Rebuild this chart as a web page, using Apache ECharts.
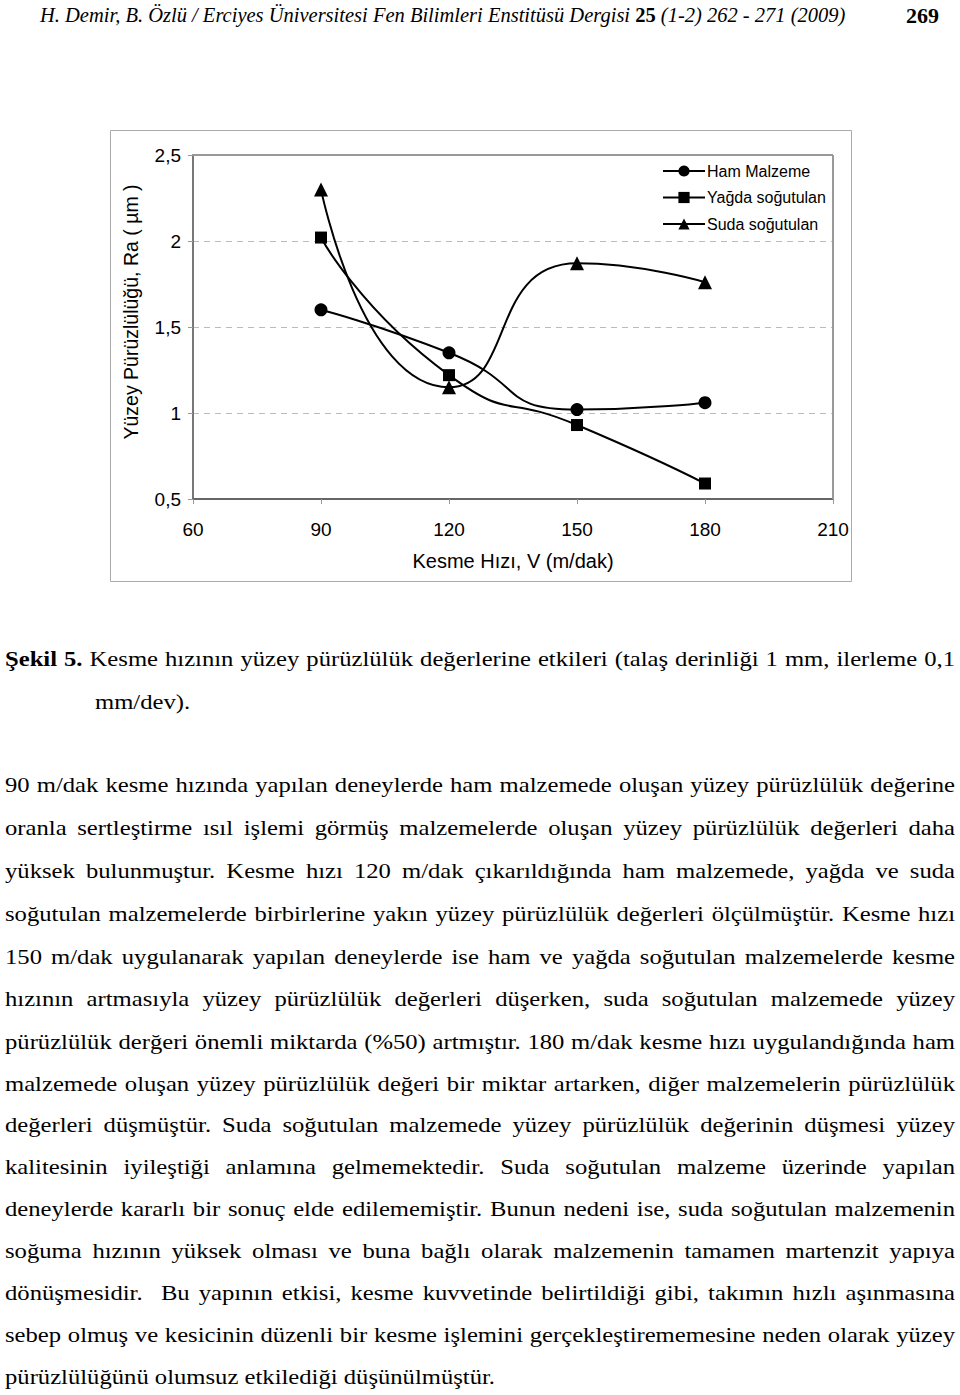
<!DOCTYPE html>
<html>
<head>
<meta charset="utf-8">
<script src="https://cdn.jsdelivr.net/npm/echarts@6/dist/echarts.min.js"></script>
<style>
  html, body { margin:0; padding:0; background:#fff; }
  #page { position:relative; width:960px; height:1395px; overflow:hidden; }
  #chart { position:absolute; left:0; top:0; width:960px; height:620px; }
  .serif { font-family: "Liberation Serif", "Times New Roman", serif; color:#000; }
  #header { position:absolute; left:40px; top:4px; font-size:20.5px; white-space:nowrap; font-style:italic; }
  #header b { font-style:normal; }
  #pageno { position:absolute; left:906px; top:3px; font-size:22px; font-weight:bold; }
  .ln { position:absolute; left:5px; font-size:22px; white-space:nowrap; text-align:justify; text-align-last:justify; line-height:24px; transform-origin:0 0; transform:scaleX(1.12); }
  .ln.last { text-align-last:left; }
</style>
</head>
<body>
<div id="page">
  <div id="chart"></div>
  <div id="header" class="serif">H. Demir, B. Özlü / Erciyes Üniversitesi Fen Bilimleri Enstitüsü Dergisi <b>25</b> (1-2) 262 - 271 (2009)</div>
  <div id="pageno" class="serif">269</div>
  <div id="text"></div>
</div>
<script>
// ---- data ----
const speeds = [90, 120, 150, 180];
const hamMalzeme = [1.60, 1.35, 1.02, 1.06];
const yagdaSogutulan = [2.02, 1.22, 0.93, 0.59];
const sudaSogutulan = [2.30, 1.15, 1.87, 1.76];
const seriesNames = ['Ham Malzeme', 'Yağda soğutulan', 'Suda soğutulan'];
const xTicks = [60, 90, 120, 150, 180, 210];
const yTicks = [0.5, 1, 1.5, 2, 2.5];

const captionBold = 'Şekil 5.';
const captionRest = ' Kesme hızının yüzey pürüzlülük değerlerine etkileri (talaş derinliği 1 mm, ilerleme 0,1';
const captionLine2 = 'mm/dev).';
const bodyLines = [
  '90 m/dak kesme hızında yapılan deneylerde ham malzemede oluşan yüzey pürüzlülük değerine',
  'oranla sertleştirme ısıl işlemi görmüş malzemelerde oluşan yüzey pürüzlülük değerleri daha',
  'yüksek bulunmuştur. Kesme hızı 120 m/dak çıkarıldığında ham malzemede, yağda ve suda',
  'soğutulan malzemelerde birbirlerine yakın yüzey pürüzlülük değerleri ölçülmüştür. Kesme hızı',
  '150 m/dak uygulanarak yapılan deneylerde ise ham ve yağda soğutulan malzemelerde kesme',
  'hızının artmasıyla yüzey pürüzlülük değerleri düşerken, suda soğutulan malzemede yüzey',
  'pürüzlülük derğeri önemli miktarda (%50) artmıştır. 180 m/dak kesme hızı uygulandığında ham',
  'malzemede oluşan yüzey pürüzlülük değeri bir miktar artarken, diğer malzemelerin pürüzlülük',
  'değerleri düşmüştür. Suda soğutulan malzemede yüzey pürüzlülük değerinin düşmesi yüzey',
  'kalitesinin iyileştiği anlamına gelmemektedir. Suda soğutulan malzeme üzerinde yapılan',
  'deneylerde kararlı bir sonuç elde edilememiştir. Bunun nedeni ise, suda soğutulan malzemenin',
  'soğuma hızının yüksek olması ve buna bağlı olarak malzemenin tamamen martenzit yapıya',
  'dönüşmesidir.\u00a0 Bu yapının etkisi, kesme kuvvetinde belirtildiği gibi, takımın hızlı aşınmasına',
  'sebep olmuş ve kesicinin düzenli bir kesme işlemini gerçekleştirememesine neden olarak yüzey',
  'pürüzlülüğünü olumsuz etkilediği düşünülmüştür.'
];

// ---- page text ----
const SX = 1.12;
const textBox = document.getElementById('text');
function addLine(html, top, left, cls) {
  const d = document.createElement('div');
  d.className = 'serif ln' + (cls ? ' ' + cls : '');
  const l = left == null ? 5 : left;
  d.style.top = top + 'px';
  d.style.left = l + 'px';
  d.style.width = ((955 - l) / SX) + 'px';
  d.innerHTML = html;
  textBox.appendChild(d);
}
addLine('<b>' + captionBold + '</b>' + captionRest, 647);
addLine(captionLine2, 690, 95, 'last');
const lineTops = [773, 816, 859, 902, 945, 987, 1030, 1072, 1113, 1155, 1197, 1239, 1281, 1323, 1365];
bodyLines.forEach((t, i) => addLine(t, lineTops[i], null, i === bodyLines.length - 1 ? 'last' : ''));

// ---- chart ----
const chart = echarts.init(document.getElementById('chart'), null, { renderer: 'svg' });
const fmt = v => String(v).replace('.', ',');
const mk = (name, data, symbol, size) => ({
  name, type: 'line', smooth: 0.6,
  data: speeds.map((s, i) => [s, data[i]]),
  symbol, symbolSize: size,
  lineStyle: { color: '#000', width: 2 },
  itemStyle: { color: '#000' },
  z: 3
});
chart.setOption({
  animation: false,
  textStyle: { fontFamily: 'Liberation Sans, Arial, sans-serif' },
  grid: { left: 193, top: 155, width: 640, height: 344, show: false },
  graphic: [
    { type: 'rect', shape: { x: 110.5, y: 130.5, width: 741, height: 451 }, style: { fill: 'none', stroke: '#aaa', lineWidth: 1 }, z: 0 },
    { type: 'text', x: 131, y: 312, rotation: Math.PI / 2,
      style: { text: 'Yüzey Pürüzlülüğü, Ra ( µm )', font: '19.5px "Liberation Sans", Arial, sans-serif', fill: '#000', align: 'center', verticalAlign: 'middle' } }
  ],
  legend: {
    orient: 'vertical', left: 660, top: 159,
    data: seriesNames,
    itemWidth: 42, itemHeight: 14, itemGap: 10.5,
    textStyle: { fontSize: 16, color: '#000', fontFamily: 'Liberation Sans, Arial, sans-serif', padding: [0,0,0,-3] },
    backgroundColor: '#fff', padding: [4, 18, 6, 2]
  },
  xAxis: {
    type: 'value', min: 60, max: 210, interval: 30,
    name: 'Kesme Hızı, V (m/dak)', nameLocation: 'middle', nameGap: 52,
    nameTextStyle: { fontSize: 20, color: '#000' },
    axisLine: { show: true, lineStyle: { color: '#666', width: 2 } },
    axisTick: { show: true, length: 5, lineStyle: { color: '#999' } },
    axisLabel: { fontSize: 19, color: '#000', margin: 21 },
    splitLine: { show: false }
  },
  yAxis: [{
    type: 'value', min: 0.5, max: 2.5, interval: 0.5,
    axisLine: { show: true, onZero: false, lineStyle: { color: '#777', width: 2 } },
    axisTick: { show: true, length: 5, lineStyle: { color: '#999' } },
    axisLabel: { fontSize: 19, color: '#000', margin: 12, formatter: fmt },
    splitLine: { show: true, lineStyle: { color: '#bbb', type: [6, 5], width: 1 } }
  }],
  series: [
    mk(seriesNames[0], hamMalzeme, 'circle', 13),
    mk(seriesNames[1], yagdaSogutulan, 'rect', 12),
    mk(seriesNames[2], sudaSogutulan, 'triangle', 14),
    { type: 'line', silent: true, data: [], markLine: { silent: true, symbol: 'none', label: { show: false },
      lineStyle: { color: '#999', type: 'solid', width: 2 },
      data: [ [{ coord: [60, 2.5] }, { coord: [210, 2.5] }], [{ coord: [210, 0.5] }, { coord: [210, 2.5] }] ] }, z: 1 }
  ]
});
</script>
</body>
</html>
